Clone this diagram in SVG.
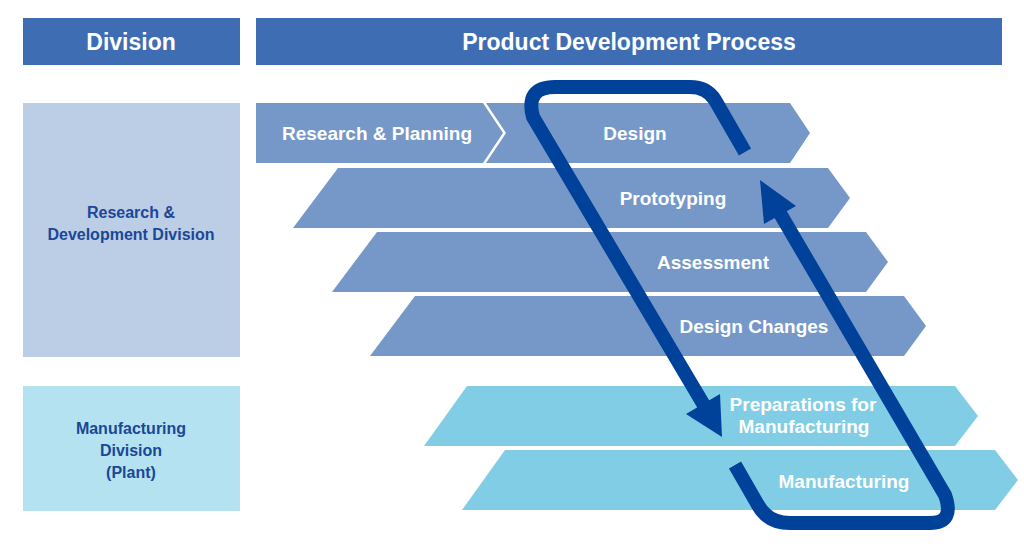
<svg xmlns="http://www.w3.org/2000/svg" width="1024" height="555" viewBox="0 0 1024 555">
<style>
.hd{fill:#3f6db3}
.t{font-family:"Liberation Sans",Arial,sans-serif;font-weight:bold;fill:#fff;font-size:19px}
.h{font-family:"Liberation Sans",Arial,sans-serif;font-weight:bold;fill:#fff;font-size:23px}
.d{font-family:"Liberation Sans",Arial,sans-serif;font-weight:bold;fill:#1a4796;font-size:16px;text-anchor:middle}
.rd{fill:#7598c8}
.mf{fill:#80cde5}
.loop{fill:none;stroke:#00429a;stroke-width:14;stroke-linejoin:round}
.ah{fill:#00429a}
</style>
<rect width="1024" height="555" fill="#fff"/>
<g id="hdr-division"><rect class="hd" x="23" y="18" width="217" height="47"/><text class="h" x="131" y="50" text-anchor="middle">Division</text></g>
<g id="hdr-process"><rect class="hd" x="256" y="18" width="746" height="47"/><text class="h" x="629" y="50" text-anchor="middle">Product Development Process</text></g>
<g id="div-rd"><rect x="23" y="103" width="217" height="254" fill="#bccde6"/><text class="d" x="131" y="218">Research &amp;</text><text class="d" x="131" y="240">Development Division</text></g>
<g id="div-mf"><rect x="23" y="386" width="217" height="125" fill="#b5e2f0"/><text class="d" x="131" y="434">Manufacturing</text><text class="d" x="131" y="456">Division</text><text class="d" x="131" y="478">(Plant)</text></g>
<g id="research"><polygon class="rd" points="256,103 483,103 503,133 483,163 256,163"/><text class="t" x="377" y="140" text-anchor="middle">Research &amp; Planning</text></g>
<g id="design"><polygon class="rd" points="486,103 790,103 810,133 790,163 486,163 506,133"/><text class="t" x="635" y="140" text-anchor="middle">Design</text></g>
<g id="proto"><polygon class="rd" points="338,168 828,168 850,198 828,228 293,228"/><text class="t" x="673" y="205" text-anchor="middle">Prototyping</text></g>
<g id="assess"><polygon class="rd" points="377,232 866,232 888,262 866,292 332,292"/><text class="t" x="713" y="269" text-anchor="middle">Assessment</text></g>
<g id="changes"><polygon class="rd" points="415,296 904,296 926,326 904,356 370,356"/><text class="t" x="754" y="333" text-anchor="middle">Design Changes</text></g>
<g id="prep"><polygon class="mf" points="467,386 955,386 978,416 955,446 424,446"/><text class="t" x="803" y="411" text-anchor="middle" font-size="17">Preparations for</text><text class="t" x="804" y="433" text-anchor="middle" font-size="17">Manufacturing</text></g>
<g id="mfg"><polygon class="mf" points="505,450 995,450 1018,480 995,510 462,510"/><text class="t" x="844" y="488" text-anchor="middle" font-size="21">Manufacturing</text></g>
<g id="connectors">
<path class="loop" d="M745,152 L715,100 Q707,87 690,87 L555,87 Q525,87 533,117 L708,412"/>
<polygon class="ah" points="722,437 686,414 720,394"/>
<path class="loop" d="M735,465 L758,505 Q768,523 790,523 L930,523 Q955,523 945,495 L778,210"/>
<polygon class="ah" points="760,180 796,206 764,224"/>
</g>
</svg>
